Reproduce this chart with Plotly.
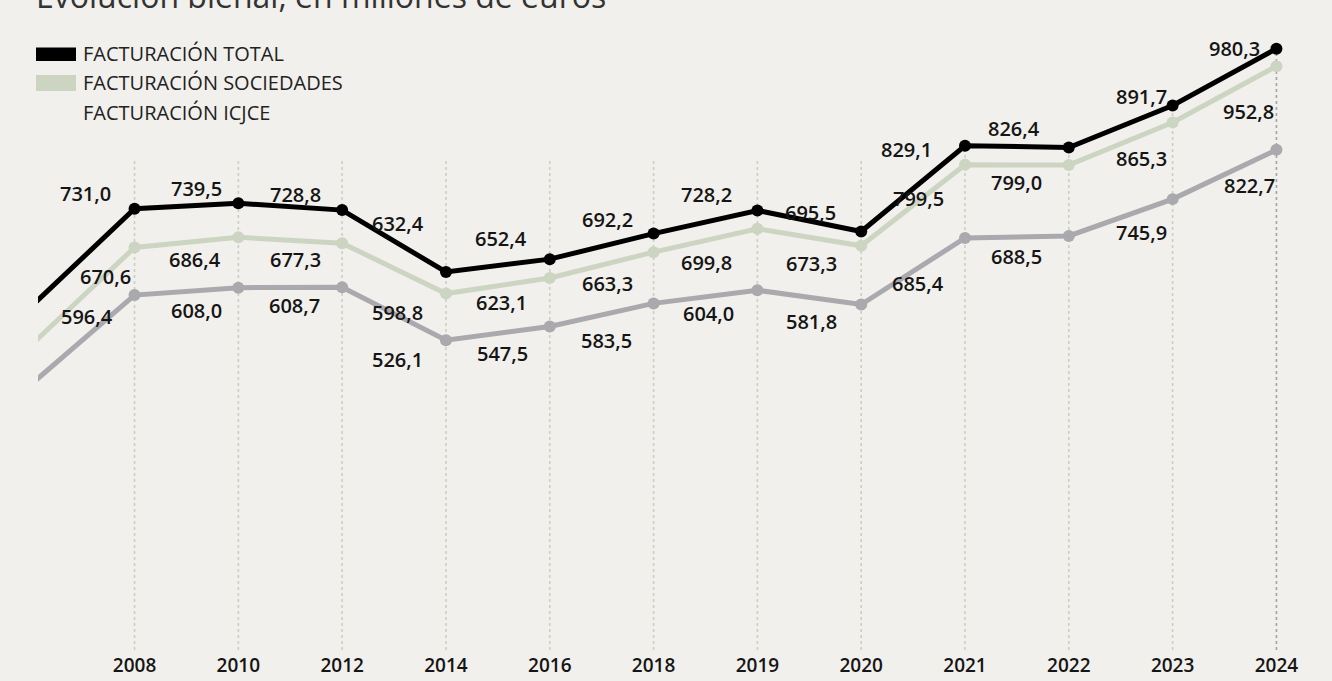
import plotly.graph_objects as go

# ---------------- data ----------------
years = ["2006", "2008", "2010", "2012", "2014", "2016", "2018", "2019",
         "2020", "2021", "2022", "2023", "2024"]
# 2006 values are only hinted at by the lines entering from the left edge (estimated)
total = [578.0, 731.0, 739.5, 728.8, 632.4, 652.4, 692.2, 728.2, 695.5,
         829.1, 826.4, 891.7, 980.3]
sociedades = [518.0, 670.6, 686.4, 677.3, 598.8, 623.1, 663.3, 699.8, 673.3,
              799.5, 799.0, 865.3, 952.8]
icjce = [457.0, 596.4, 608.0, 608.7, 526.1, 547.5, 583.5, 604.0, 581.8,
         685.4, 688.5, 745.9, 822.7]
series_names = ["FACTURACIÓN TOTAL", "FACTURACIÓN SOCIEDADES", "FACTURACIÓN ICJCE"]
title_text = "Evolución bienal, en millones de euros"
first_labeled = 1  # labels shown from 2008 on

# ---------------- style ----------------
W, H = 1332, 681
ML, MR, MT, MB = 38, 40, 10, 31
BG = "#f1f0ec"
C_TOTAL, C_SOC, C_ICJ = "#000000", "#cbd5c1", "#a9a9ae"
GRID_C, GRID_LAST_C = "#c9d2bf", "#a3a3a3"
FONT = "Open Sans"
X_RANGE = [0.07, 12.15]
Y_RANGE = [43.6, 1040.5]
GRID_TOP = 810

# label offsets (px, dx right / dy down) relative to each point
off_total = [(-49, -15), (-42, -15), (-47, -16), (-48, -49), (-49, -21), (-46, -14),
             (-51, -16), (-51, -19), (-59, 4), (-55, -19), (-31, -9), (-42, 0)]
off_soc = [(-29, 29), (-43, 22), (-47, 16), (-48, 19), (-48, 25), (-46, 31),
           (-51, 34), (-50, 18), (-47, 34), (-52, 17), (-31, 36), (-28, 45)]
off_icj = [(-48, 21), (-42, 23), (-48, 18), (-48, 19), (-47, 27), (-47, 37),
           (-49, 23), (-50, 17), (-47, 46), (-52, 21), (-31, 33), (-27, 36)]

PW, PH = W - ML - MR, H - MT - MB


def px_x(px):
    return (px - ML) / PW


def px_y(py):
    return (H - MB - py) / PH


fig = go.Figure()
for vals, col, name in [(icjce, C_ICJ, series_names[2]),
                        (sociedades, C_SOC, series_names[1]),
                        (total, C_TOTAL, series_names[0])]:
    fig.add_trace(go.Scatter(
        x=list(range(len(years))), y=vals, mode="lines+markers", name=name,
        line=dict(color=col, width=5), marker=dict(color=col, size=12),
        showlegend=False, hoverinfo="skip"))

shapes = []
# dotted vertical guides
for i in range(first_labeled, len(years)):
    shapes.append(dict(type="line", xref="x", yref="y", x0=i, x1=i,
                       y0=Y_RANGE[0], y1=max(total[i], GRID_TOP), layer="below",
                       line=dict(color=GRID_LAST_C if i == len(years) - 1 else GRID_C,
                                 width=1.6, dash="dot")))

annotations = []
for vals, offs in [(total, off_total), (sociedades, off_soc), (icjce, off_icj)]:
    for k, i in enumerate(range(first_labeled, len(years))):
        dx, dy = offs[k]
        annotations.append(dict(
            x=i, y=vals[i], xref="x", yref="y", showarrow=False,
            text=f"{vals[i]:.1f}".replace(".", ","),
            xshift=dx, yshift=-dy, xanchor="center", yanchor="middle",
            font=dict(family=FONT, size=20, color="#151515", weight=600)))

# legend (custom)
legend_rows = [(series_names[0], C_TOTAL, 47.5, 61, 54),
               (series_names[1], C_SOC, 75, 91, 83),
               (series_names[2], None, 0, 0, 112)]
for name, col, y0, y1, yc in legend_rows:
    if col:
        shapes.append(dict(type="rect", xref="paper", yref="paper",
                           x0=px_x(36), x1=px_x(76), y0=px_y(y1), y1=px_y(y0),
                           fillcolor=col, line=dict(width=0)))
    annotations.append(dict(x=px_x(81), y=px_y(yc), xref="paper", yref="paper",
                            text=name, showarrow=False, xanchor="left", yanchor="middle",
                            font=dict(family=FONT, size=20, color="#222222")))

# title (partially cut by top edge, as in the original)
annotations.append(dict(x=px_x(34), y=px_y(-5), xref="paper", yref="paper",
                        text=title_text, showarrow=False, xanchor="left", yanchor="middle",
                        font=dict(family=FONT, size=32, color="#333333")))

fig.update_layout(
    width=W, height=H, margin=dict(l=ML, r=MR, t=MT, b=MB, autoexpand=False),
    paper_bgcolor=BG, plot_bgcolor=BG, showlegend=False,
    shapes=shapes, annotations=annotations,
    xaxis=dict(range=X_RANGE, tickmode="array", automargin=False,
               tickvals=list(range(first_labeled, len(years))),
               ticktext=years[first_labeled:], showgrid=False, zeroline=False,
               showline=False, ticks="", ticklabelstandoff=2,
               tickfont=dict(family=FONT, size=19, color="#151515", weight=600)),
    yaxis=dict(range=Y_RANGE, visible=False, showgrid=False, zeroline=False,
               automargin=False),
)

fig.write_html("out.html",
               config={"displayModeBar": False},
               post_script="document.body.style.margin='0';"
                           "document.body.style.overflow='hidden';"
                           "document.body.style.background='" + BG + "';")
